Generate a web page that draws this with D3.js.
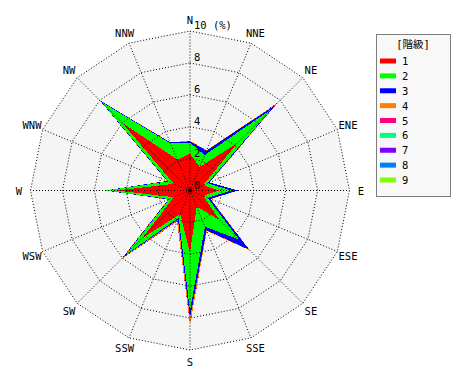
<!DOCTYPE html>
<html><head><meta charset="utf-8">
<script src="https://cdn.jsdelivr.net/npm/d3@7/dist/d3.min.js"></script>
<style>
html,body{margin:0;padding:0;background:#fff;}
text{font-family:"DejaVu Sans Mono","Noto Sans CJK JP",monospace;font-size:10.5px;fill:#000;}
</style></head>
<body>
<svg id="c" width="470" height="380"></svg>
<script>
const directions = ["N","NNE","NE","ENE","E","ESE","SE","SSE","S","SSW","SW","WSW","W","WNW","NW","NNW"];
const classes = ["1","2","3","4","5","6","7","8","9"];
const colors = ["#ff0000","#00ff00","#0000ff","#ff8000","#ff0080","#00ff80","#8000ff","#0080ff","#80ff00"];
const ringTicks = [2,4,6,8,10];
// frequency (%) of each class per direction
const class1 = [2.3,1.6,4.2,0.9,1.8,0.9,2.6,1.1,3.9,1.6,4.2,1.1,4.6,1.1,6.0,2.1];
const class2 = [0.7,0.8,3.0,0.3,0.8,0.3,1.75,1.35,3.65,0.25,1.5,0.3,0.65,0.4,1.85,1.1];
const class3 = [0.08,0.3,0.4,0.12,0.4,0.18,0.9,0.25,0.45,0.12,0.18,0.06,0.06,0.06,0.15,0.06];
const class4 = [0.03,0.04,0.15,0.02,0.04,0.03,0.06,0.06,0.4,0.12,0.12,0.03,0.02,0.02,0.04,0.02];
const class5 = [0,0,0.05,0,0,0,0,0,0.03,0.03,0.1,0,0,0,0,0];
const class6 = [0,0,0,0,0,0,0,0,0,0,0,0,0,0,0,0];
const class7 = [0,0,0,0,0,0,0,0,0,0,0,0,0,0,0,0];
const class8 = [0,0,0,0,0,0,0,0,0,0,0,0,0,0,0,0];
const class9 = [0,0,0,0,0,0,0,0,0,0,0,0,0,0,0,0];
const series = [class1,class2,class3,class4,class5,class6,class7,class8,class9];

const svg = d3.select("#c");
const cx = 190, cy = 190.5, R = 159.5;
const r = d3.scaleLinear().domain([0,10]).range([0,R]);
const ang = d3.scalePoint().domain(directions.concat(["_"])).range([0, 2*Math.PI]);
const g = svg.append("g").attr("transform",`translate(${cx},${cy})`);

const ringLine = d3.lineRadial().angle(d=>ang(d.dir)).radius(d=>r(d.v)).curve(d3.curveLinearClosed);

// background
g.append("path").attr("d", ringLine(directions.map(dir=>({dir, v:10})))).attr("fill","#f5f5f5");

// cumulative stacks
const cum = [];
series.forEach((s,k)=>{ cum.push(s.map((v,i)=> v + (k>0?cum[k-1][i]:0))); });
for (let k = series.length-1; k>=0; k--) {
  g.append("path")
   .attr("d", ringLine(directions.map((dir,i)=>({dir, v:cum[k][i]}))))
   .attr("fill", colors[k]).attr("shape-rendering","crispEdges");
}

// grid
ringTicks.forEach(t=>{
  g.append("path").attr("d", ringLine(directions.map(dir=>({dir, v:t}))))
   .attr("fill","none").attr("stroke","#000").attr("stroke-width",1).attr("stroke-dasharray","1 2");
});
directions.forEach(dir=>{
  const a = ang(dir);
  g.append("line").attr("x1",0).attr("y1",0)
   .attr("x2", r(10)*Math.sin(a)).attr("y2", -r(10)*Math.cos(a))
   .attr("stroke","#000").attr("stroke-width",1).attr("stroke-dasharray","1 2");
});
g.append("circle").attr("r",2).attr("fill","#000");

// ring labels
[0].concat(ringTicks).forEach(t=>{
  g.append("text").attr("x",4).attr("y",-r(t)-2).text(t===10 ? "10 (%)" : String(t));
});

// compass labels
directions.forEach(dir=>{
  const a = ang(dir), L = 171;
  g.append("text").attr("x", L*Math.sin(a)).attr("y", -L*Math.cos(a))
   .attr("text-anchor","middle").attr("dominant-baseline","central").text(dir);
});

// legend
const lg = svg.append("g");
lg.append("rect").attr("x",376.5).attr("y",34.5).attr("width",74).attr("height",162)
  .attr("fill","#f8f8f8").attr("stroke","#000").attr("stroke-dasharray","1 1");
lg.append("text").attr("x",413).attr("y",48).attr("text-anchor","middle").text("[階級]");
const ly = d3.scaleLinear().domain([0,8]).range([61,180]);
classes.forEach((c,i)=>{
  lg.append("rect").attr("x",380).attr("y",ly(i)-2.5).attr("width",16).attr("height",5).attr("fill",colors[i]);
  lg.append("text").attr("x",402).attr("y",ly(i)).attr("dominant-baseline","central").text(c);
});
</script>
</body></html>
